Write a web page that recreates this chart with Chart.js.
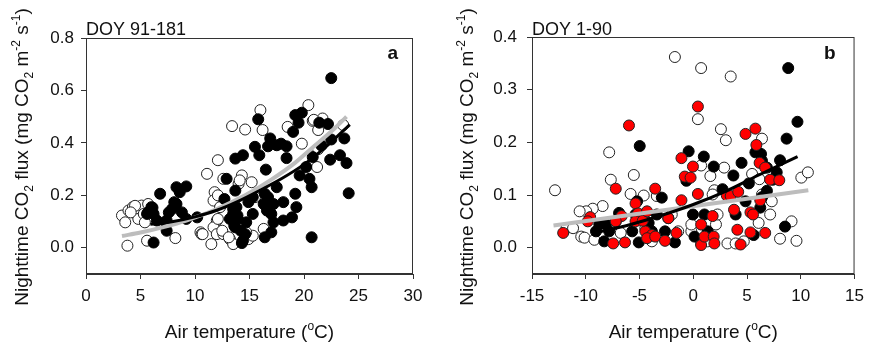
<!DOCTYPE html>
<html>
<head>
<meta charset="utf-8">
<script src="https://cdn.jsdelivr.net/npm/chart.js@4"></script>
<style>
  body { margin: 0; background: #fff; }
  canvas { position: absolute; top: 0; }
  #ca { left: 0; }
  #cb { left: 440px; }
</style>
</head>
<body>
<canvas id="ca" width="440" height="346"></canvas>
<canvas id="cb" width="431" height="346"></canvas>
<script>
const FONT = "'Liberation Sans', Arial, sans-serif";

// panel a: DOY 91-181
const aXTicks = [0, 5, 10, 15, 20, 25, 30];
const aYTicks = [0, 0.2, 0.4, 0.6, 0.8];
const aFilledX = [22.5, 19.8, 19.2, 19.5, 15.8, 21.4, 22.2, 22.5, 23.7, 23.3, 23.9, 24.1, 22.4, 21.6, 19.0, 18.4, 17.9, 17.5, 16.9, 16.7, 15.5, 15.9, 14.4, 13.7, 16.5, 18.4, 19.6, 20.2, 20.8, 20.5, 20.7, 19.2, 19.3, 18.9, 18.1, 18.1, 17.5, 17.2, 16.7, 16.4, 16.3, 16.6, 17.0, 17.2, 17.0, 16.4, 15.3, 14.9, 15.3, 14.7, 14.6, 14.3, 13.8, 13.5, 13.2, 13.9, 13.7, 12.9, 13.7, 20.7, 9.2, 8.3, 8.6, 8.8, 8.3, 7.9, 7.4, 7.4, 6.8, 6.5, 6.0, 5.6, 6.2, 6.2, 10.2, 9.2, 8.1, 7.6, 7.3, 12.7, 13.5, 13.9, 13.6, 14.2, 14.4, 6.1, 5.7];
const aFilledY = [0.647, 0.515, 0.506, 0.477, 0.49, 0.477, 0.472, 0.413, 0.417, 0.353, 0.323, 0.208, 0.336, 0.39, 0.442, 0.387, 0.397, 0.391, 0.417, 0.387, 0.385, 0.353, 0.353, 0.34, 0.298, 0.342, 0.276, 0.308, 0.346, 0.263, 0.231, 0.206, 0.155, 0.116, 0.104, 0.174, 0.231, 0.167, 0.193, 0.206, 0.167, 0.142, 0.129, 0.097, 0.059, 0.04, 0.193, 0.174, 0.129, 0.097, 0.052, 0.018, 0.155, 0.129, 0.11, 0.11, 0.078, 0.263, 0.218, 0.04, 0.234, 0.231, 0.212, 0.135, 0.167, 0.148, 0.104, 0.065, 0.206, 0.104, 0.155, 0.129, 0.02, 0.129, 0.116, 0.11, 0.174, 0.135, 0.097, 0.186, 0.148, 0.123, 0.084, 0.065, 0.027, 0.153, 0.135];
const aOpenX = [3.3, 3.6, 3.8, 3.9, 4.3, 4.6, 4.8, 5.1, 4.5, 5.3, 5.6, 5.7, 5.4, 4.1, 8.2, 11.1, 12.1, 13.4, 14.6, 16.0, 16.2, 20.4, 20.8, 21.7, 18.5, 19.8, 21.2, 23.6, 21.3, 14.3, 14.0, 15.2, 12.6, 11.8, 11.7, 12.3, 12.0, 11.7, 10.5, 10.6, 11.5, 12.0, 12.6, 13.2, 13.5, 14.9, 15.3, 16.3, 15.5, 12.1, 12.1, 12.5, 10.7, 13.1, 14.1, 14.7, 20.9, 21.3];
const aOpenY = [0.123, 0.097, 0.008, 0.142, 0.155, 0.129, 0.11, 0.161, 0.16, 0.129, 0.027, 0.167, 0.097, 0.135, 0.037, 0.282, 0.334, 0.464, 0.451, 0.525, 0.449, 0.544, 0.484, 0.493, 0.461, 0.397, 0.308, 0.468, 0.376, 0.276, 0.244, 0.25, 0.263, 0.212, 0.18, 0.155, 0.104, 0.078, 0.059, 0.052, 0.014, 0.052, 0.052, 0.033, 0.014, 0.033, 0.046, 0.072, 0.193, 0.2, 0.11, 0.065, 0.052, 0.04, 0.257, 0.059, 0.488, 0.449];
const aGrayX = [3.3, 5, 7, 9.2, 12, 14.6, 17, 19.2, 21, 22.8, 23.9];
const aGrayY = [0.045, 0.058, 0.078, 0.104, 0.148, 0.2, 0.26, 0.325, 0.39, 0.455, 0.5];
const aBlackX = [5.9, 8, 10, 12, 14, 16, 18, 20, 22, 24.2];
const aBlackY = [0.09, 0.10, 0.118, 0.143, 0.178, 0.22, 0.265, 0.318, 0.385, 0.47];

// panel b: DOY 1-90
const bXTicks = [-15, -10, -5, 0, 5, 10, 15];
const bYTicks = [0, 0.1, 0.2, 0.3, 0.4];
const bOpenX = [-12.86, -1.71, 0.73, 3.48, 0.43, 2.57, 3.03, 6.39, -7.82, -5.53, -7.67, -5.83, -4.61, -8.43, -9.35, -9.96, -10.57, -11.79, -11.18, -10.42, -10.11, -9.2, -7.5, -6.75, 0.73, 1.59, 1.96, 1.8, 2.87, 5.47, 6.15, 10.05, 10.66, 9.14, 9.6, 8.07, 3.18, 3.94, 4.7, 6.08, 7.15, 7.3, -0.18, 0.73, 1.35, -0.18, 2.11, 2.26, -1.4, -3.85, -4.46, -2.0, -3.39, 6.39];
const bOpenY = [0.109, 0.362, 0.341, 0.325, 0.244, 0.225, 0.204, 0.207, 0.181, 0.138, 0.129, 0.102, 0.099, 0.079, 0.074, 0.069, 0.069, 0.037, 0.037, 0.021, 0.019, 0.015, 0.044, 0.028, 0.156, 0.136, 0.109, 0.101, 0.152, 0.14, 0.13, 0.133, 0.143, 0.05, 0.013, 0.017, 0.008, 0.008, 0.012, 0.047, 0.063, 0.088, 0.031, 0.008, 0.012, 0.044, 0.044, 0.063, 0.031, 0.012, 0.037, 0.063, 0.098, 0.101];
const bFilledX = [8.83, 9.69, 8.68, -4.98, -0.43, 0.98, 1.9, 3.73, 4.49, 5.78, 6.3, 6.39, 6.85, 8.07, 7.76, 7.4, 2.72, 6.85, 5.17, 4.86, 3.94, 6.23, 6.39, -0.64, -0.03, 1.04, 1.35, 0.12, -1.71, -2.63, -2.93, -2.32, -5.22, -5.37, -5.68, -5.07, -4.15, -3.85, -3.39, -6.9, -7.21, -8.13, -8.74, -9.05, -8.28, -7.82, 8.53, 5.62];
const bFilledY = [0.341, 0.239, 0.207, 0.193, 0.183, 0.173, 0.154, 0.137, 0.161, 0.181, 0.178, 0.165, 0.152, 0.166, 0.143, 0.129, 0.111, 0.108, 0.122, 0.088, 0.063, 0.076, 0.096, 0.127, 0.063, 0.063, 0.031, 0.021, 0.01, 0.031, 0.095, 0.056, 0.088, 0.063, 0.031, 0.01, 0.047, 0.031, 0.063, 0.066, 0.05, 0.044, 0.044, 0.031, 0.012, 0.031, 0.04, 0.024];
const bRedX = [0.43, -5.98, 4.86, 5.78, 5.87, -1.1, -0.03, 6.17, 6.69, 7.15, -7.21, -3.54, -0.79, -0.25, 0.43, -1.1, -2.32, -5.37, -5.13, -5.37, -6.66, -7.21, -9.59, -9.81, -12.1, -7.45, -6.35, -4.46, -3.85, -4.3, -3.54, -4.7, -4.3, -2.63, -1.56, 0.73, 0.73, 1.04, 1.9, 1.96, 1.8, 3.12, 3.48, 3.79, 4.1, 4.4, 5.32, 5.56, 5.32, 6.23, 6.69, 4.18, 8.0];
const bRedY = [0.268, 0.232, 0.216, 0.226, 0.195, 0.17, 0.154, 0.161, 0.152, 0.129, 0.112, 0.112, 0.135, 0.133, 0.102, 0.09, 0.056, 0.084, 0.065, 0.05, 0.06, 0.05, 0.058, 0.05, 0.028, 0.008, 0.01, 0.031, 0.024, 0.018, 0.021, 0.051, 0.069, 0.013, 0.028, 0.044, 0.005, 0.021, 0.021, 0.008, 0.06, 0.099, 0.098, 0.072, 0.034, 0.006, 0.067, 0.063, 0.029, 0.09, 0.028, 0.106, 0.128];
const bGrayX = [-13, 10.7];
const bGrayY = [0.042, 0.109];
const bBlackX = [-8.7, -6, -3, 0, 3, 6, 9.7];
const bBlackY = [0.030, 0.043, 0.061, 0.082, 0.107, 0.137, 0.173];

const yTitle = [["Nighttime CO", 0], ["2", -1], [" flux (mg CO", 0], ["2", -1], [" m", 0], ["-2", 1], [" s", 0], ["-1", 1], [")", 0]];
const xTitle = [["Air temperature (", 0], ["o", 1], ["C)", 0]];

function pts(xs, ys) {
  return xs.map((x, i) => ({ x: x, y: ys[i] }));
}

// text with sub/superscripts, centred on (cx, cy)
function drawRich(ctx, parts, cx, cy, size, rotate) {
  const small = Math.round(size * 0.65);
  ctx.save();
  ctx.translate(cx, cy);
  if (rotate) ctx.rotate(-Math.PI / 2);
  let total = 0;
  parts.forEach(p => {
    ctx.font = (p[1] ? small : size) + "px " + FONT;
    total += ctx.measureText(p[0]).width;
  });
  let x = -total / 2;
  ctx.fillStyle = "#111";
  ctx.textBaseline = "alphabetic";
  ctx.textAlign = "left";
  parts.forEach(p => {
    ctx.font = (p[1] ? small : size) + "px " + FONT;
    let dy = p[1] === -1 ? size * 0.28 : p[1] === 1 ? -size * 0.42 : 0;
    ctx.fillText(p[0], x, dy);
    x += ctx.measureText(p[0]).width;
  });
  ctx.restore();
}

function deco(o) {
  return {
    id: "deco",
    afterDraw(chart) {
      const ctx = chart.ctx;
      const a = chart.chartArea;
      ctx.save();
      ctx.strokeStyle = "#333";
      ctx.lineWidth = 1;
      ctx.strokeRect(a.left + 0.5, a.top + 0.5, a.right - a.left - 1, a.bottom - a.top - 1);
      ctx.fillStyle = "#111";
      ctx.font = "18px " + FONT;
      ctx.textAlign = "left";
      ctx.fillText(o.doy, a.left, 35);
      ctx.font = "bold 19px " + FONT;
      ctx.textAlign = "right";
      ctx.fillText(o.letter, a.right - o.letterGap, 59);
      ctx.restore();
      drawRich(ctx, yTitle, o.yTitleX, 157, 19, true);
      drawRich(ctx, xTitle, (a.left + a.right) / 2, 338, 19, false);
    }
  };
}

function scatterSet(xs, ys, fill, border, order) {
  return { data: pts(xs, ys), pointRadius: 5.5, pointHoverRadius: 5.5, borderWidth: 1,
           backgroundColor: fill, borderColor: border, order: order };
}

function lineSet(xs, ys, color, width) {
  return { data: pts(xs, ys), showLine: true, pointRadius: 0, borderColor: color,
           borderWidth: width, tension: 0.4, cubicInterpolationMode: "monotone", order: 0 };
}

function axes(xMin, xMax, xTicks, yMin, yMax, yTicks, yWidth, yPad) {
  const common = {
    grid: { drawOnChartArea: false, drawTicks: true, tickLength: 5, color: "#333" },
    border: { display: true, color: "#333" }
  };
  return {
    x: Object.assign({}, common, {
      type: "linear", min: xMin, max: xMax,
      afterBuildTicks: s => { s.ticks = xTicks.map(v => ({ value: v })); },
      afterFit: s => { s.height = 72; },
      ticks: { font: { size: 17, family: FONT }, color: "#111", padding: 7, maxRotation: 0 }
    }),
    y: Object.assign({}, common, {
      type: "linear", min: yMin, max: yMax,
      afterBuildTicks: s => { s.ticks = yTicks.map(v => ({ value: v })); },
      afterFit: s => { s.width = yWidth; },
      ticks: { font: { size: 17, family: FONT }, color: "#111", padding: yPad,
               callback: v => v.toFixed(1) }
    })
  };
}

Chart.defaults.font.family = FONT;

new Chart(document.getElementById("ca"), {
  type: "scatter",
  data: {
    datasets: [
      lineSet(aBlackX, aBlackY, "#000", 3),
      lineSet(aGrayX, aGrayY, "#bdbdbd", 4),
      scatterSet(aFilledX, aFilledY, "#000", "#000", 2),
      scatterSet(aOpenX, aOpenY, "#fff", "#222", 3)
    ]
  },
  options: {
    responsive: false,
    animation: false,
    devicePixelRatio: 1,
    layout: { padding: { left: 0, right: 27, top: 38, bottom: 0 } },
    plugins: { legend: { display: false }, tooltip: { enabled: false } },
    scales: axes(0, 30, aXTicks, -0.1, 0.8, aYTicks, 86, 7)
  },
  plugins: [deco({ doy: "DOY 91-181", letter: "a", letterGap: 15, yTitleX: 28 })]
});

new Chart(document.getElementById("cb"), {
  type: "scatter",
  data: {
    datasets: [
      lineSet(bBlackX, bBlackY, "#000", 3),
      lineSet(bGrayX, bGrayY, "#bdbdbd", 4),
      scatterSet(bRedX, bRedY, "#f00", "#222", 1),
      scatterSet(bFilledX, bFilledY, "#000", "#000", 2),
      scatterSet(bOpenX, bOpenY, "#fff", "#222", 3)
    ]
  },
  options: {
    responsive: false,
    animation: false,
    devicePixelRatio: 1,
    layout: { padding: { left: 0, right: 12, top: 37, bottom: 0 } },
    plugins: { legend: { display: false }, tooltip: { enabled: false } },
    scales: axes(-15, 15, bXTicks, -0.05, 0.4, bYTicks, 92, 10)
  },
  plugins: [deco({ doy: "DOY 1-90", letter: "b", letterGap: 19, yTitleX: 33 })]
});
</script>
</body>
</html>
